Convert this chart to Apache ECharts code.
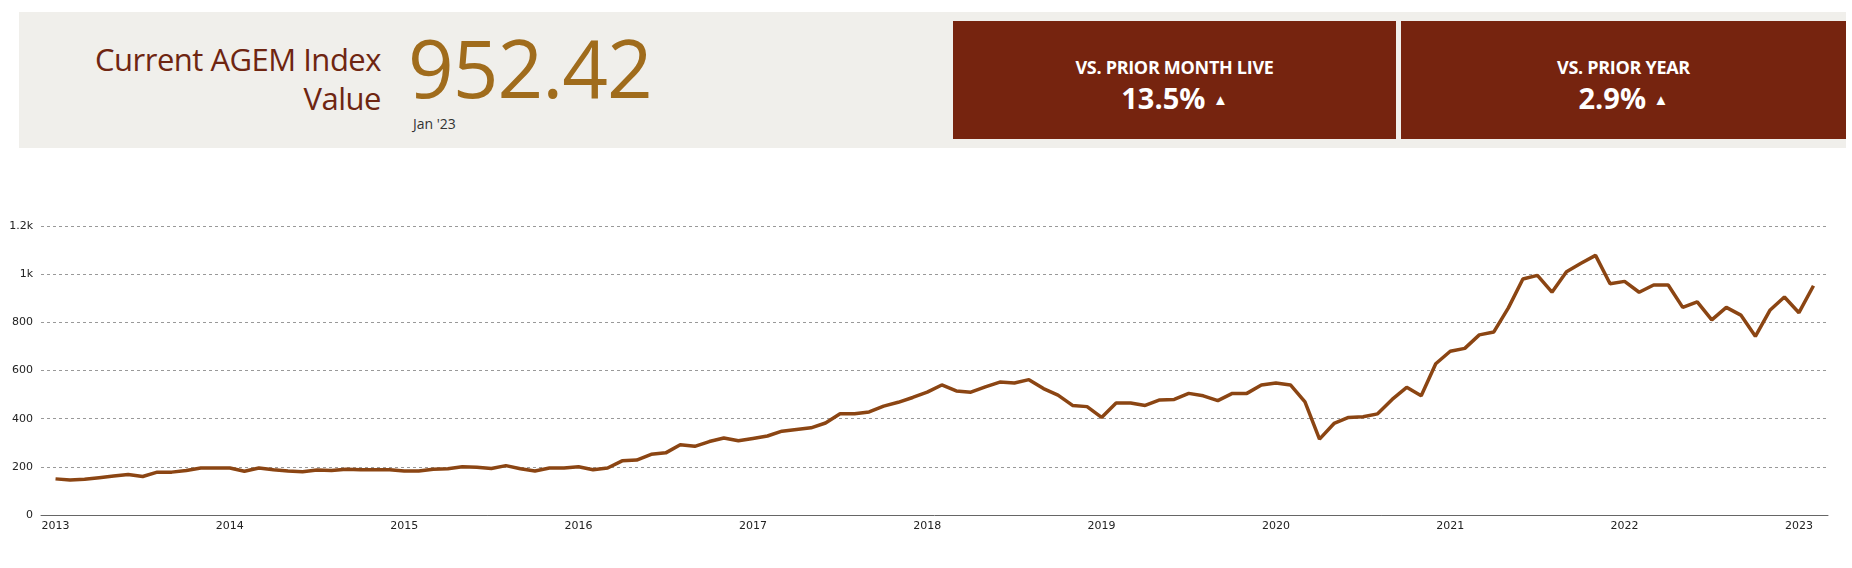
<!DOCTYPE html>
<html><head><meta charset="utf-8">
<script src="https://cdn.jsdelivr.net/npm/echarts@6/dist/echarts.min.js"></script>
<style>
html,body{margin:0;padding:0;background:#fff;font-family:"Open Sans",sans-serif;}
#hdr{position:absolute;left:19px;top:12px;width:1827px;height:136px;background:#f0efeb;}
#lbl{position:absolute;right:1471px;top:40px;text-align:right;color:#6e2511;font-size:31px;line-height:39px;letter-spacing:-0.5px;}
#val{position:absolute;left:408px;top:22px;color:#a06c1c;font-size:80px;line-height:90px;letter-spacing:-1px;}
#date{position:absolute;left:413px;top:114px;color:#333;font-size:14px;}
.box{position:absolute;top:21px;height:118px;width:443px;background:#76240f;color:#fff;text-align:center;font-weight:bold;}
.box .t{margin-top:34px;font-size:18px;letter-spacing:-0.3px;}
.box .v{font-size:29px;line-height:38px;}
.box .v span{font-size:15px;vertical-align:4px;}
#chart{position:absolute;left:0;top:0;width:1852px;height:568px;}
</style></head><body>
<div id="hdr"></div>
<div id="lbl">Current AGEM Index<br>Value</div>
<div id="val">952.42</div>
<div id="date">Jan '23</div>
<div class="box" style="left:953px"><div class="t">VS. PRIOR MONTH LIVE</div><div class="v">13.5% <span>▲</span></div></div>
<div class="box" style="left:1401px;width:445px"><div class="t">VS. PRIOR YEAR</div><div class="v">2.9% <span>▲</span></div></div>
<div id="chart"></div>
<script>
const years = [2013,2014,2015,2016,2017,2018,2019,2020,2021,2022,2023];
const values = [
150,145,148,155,162,168,160,178,178,185,195,195,
195,182,195,188,183,180,187,185,190,188,188,188,
183,183,190,192,200,198,193,205,192,183,195,195,
200,188,195,225,228,252,258,292,285,305,320,308,
318,328,348,355,362,382,420,420,428,452,468,488,
510,540,515,510,532,552,548,562,525,498,455,450,
405,465,465,455,478,480,505,495,475,505,505,540,
548,540,470,315,380,405,408,420,480,530,495,628,
680,692,748,760,860,980,995,925,1010,1045,1078,960,
970,925,955,955,862,885,810,862,830,742,850,905,
840,952
];
const yTicks = [0,200,400,600,800,1000,1200];
// categories: one padding month before and after the series
const cats = ['2012-12'];
for (let i = 0; i < values.length; i++) {
  const y = 2013 + Math.floor(i/12), m = i%12 + 1;
  cats.push(y + '-' + String(m).padStart(2,'0'));
}
cats.push('2023-02');
const data = [null, ...values, null];
const chart = echarts.init(document.getElementById('chart'));
chart.setOption({
  animation:false,
  grid:{left:41,right:24,top:226,bottom:53,containLabel:false},
  xAxis:{type:'category',data:cats,boundaryGap:false,
    axisLine:{lineStyle:{color:'#666'}},axisTick:{show:false},
    axisLabel:{interval:(i,v)=>v.endsWith('-01'),formatter:v=>v.slice(0,4),color:'#222',fontSize:11,fontFamily:'DejaVu Sans',margin:6}},
  yAxis:{type:'value',min:yTicks[0],max:yTicks[yTicks.length-1],interval:200,
    axisLabel:{formatter:v=>v>=1000?(v/1000)+'k':v,color:'#222',fontSize:11,fontFamily:'DejaVu Sans',margin:8},
    splitLine:{lineStyle:{type:[3,3],color:'#999'}}},
  series:[{type:'line',data:data,showSymbol:false,lineStyle:{color:'#8b4513',width:3.5},itemStyle:{color:'#8b4513'}}]
});
</script></body></html>
